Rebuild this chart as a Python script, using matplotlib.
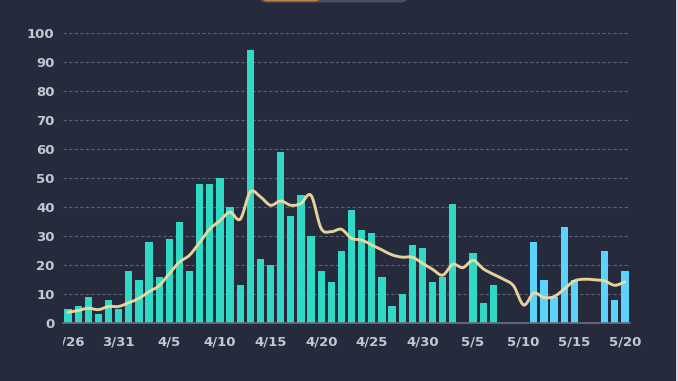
"""
Daily cases bar chart with smoothed trend line (dark theme).
"""

import numpy as np
import pandas as pd
import matplotlib
matplotlib.use("Agg")
import matplotlib.pyplot as plt
from matplotlib.path import Path
from matplotlib.patches import PathPatch, FancyBboxPatch, Rectangle
from matplotlib.transforms import Bbox, TransformedBbox

# Data
days = pd.date_range("2020-03-26", "2020-05-20", freq="D")
tick_labels = ["3/26", "3/31", "4/5", "4/10", "4/15", "4/20",
               "4/25", "4/30", "5/5", "5/10", "5/15", "5/20"]
daily_cases = [5, 6, 9, 3, 8, 5, 18, 15, 28, 16,
               29, 35, 18, 48, 48, 50, 40, 13, 94, 22,
               20, 59, 37, 44, 30, 18, 14, 25, 39, 32,
               31, 16, 6, 10, 27, 26, 14, 16, 41, 0,
               24, 7, 13, 0, 0, 0, 28, 15, 9, 33,
               15, 0, 0, 25, 8, 18]
trend = [3.7, 4.3, 5.1, 4.6, 5.7, 5.7, 7.0, 8.5, 10.8, 12.9,
         17.0, 21.0, 23.4, 27.8, 32.4, 35.3, 38.2, 35.8, 45.2, 43.5,
         40.6, 42.1, 40.6, 41.2, 44.0, 32.6, 31.5, 32.3, 29.2, 28.6,
         26.9, 25.2, 23.5, 22.7, 22.7, 20.6, 18.5, 16.5, 20.2, 19.1,
         21.6, 18.7, 16.8, 15.1, 12.8, 6.2, 10.3, 8.8, 9.1, 11.7,
         14.5, 15.1, 14.9, 14.5, 13.0, 14.2]
second_period_start = "2020-05-08"   # bars switch colour from here on

BG = "#252a3d"
TEAL = "#2fd9c5"
BLUE = "#5bd3fb"
LINE = "#f1db9f"
TEXT = "#c5c7d0"


def smooth_path(xs, ys):
    """Catmull-Rom curve through the points, as cubic bezier segments."""
    pts = np.column_stack([xs, ys]).astype(float)
    verts = [pts[0]]
    codes = [Path.MOVETO]
    n = len(pts)
    for i in range(n - 1):
        p0 = pts[max(i - 1, 0)]
        p1 = pts[i]
        p2 = pts[i + 1]
        p3 = pts[min(i + 2, n - 1)]
        c1 = p1 + (p2 - p0) / 6.0
        c2 = p2 - (p3 - p1) / 6.0
        verts += [c1, c2, p2]
        codes += [Path.CURVE4] * 3
    return Path(verts, codes)


fig = plt.figure(figsize=(6.78, 3.81), dpi=100, facecolor=BG)
ax = fig.add_axes([63 / 678, 1 - 323 / 381, 567 / 678, 290 / 381])
ax.set_facecolor(BG)

x = np.arange(len(days))
colors = [BLUE if d >= pd.Timestamp(second_period_start) else TEAL for d in days]
ax.bar(x, daily_cases, width=0.72, color=colors, zorder=2)

ax.add_patch(PathPatch(smooth_path(x, trend), facecolor="none",
                       edgecolor=LINE, lw=2.1, alpha=0.95, zorder=3,
                       capstyle="round", joinstyle="round"))

ax.set_xlim(-0.5, len(days) - 0.5)
ax.set_ylim(0, 100)
ax.set_yticks(range(0, 101, 10))
ax.yaxis.grid(True, color="#5c6274", linestyle=(0, (3, 2)), lw=0.8, zorder=0)
ax.set_axisbelow(True)

tick_pos = [list(days.strftime("%-m/%-d")).index(t) for t in tick_labels]
ax.set_xticks(tick_pos)
ax.set_xticklabels(tick_labels)

for side in ["top", "right", "left"]:
    ax.spines[side].set_visible(False)
ax.spines["bottom"].set_color("#6b6f7e")
ax.spines["bottom"].set_linewidth(1.2)

ax.tick_params(axis="both", length=0, colors=TEXT, labelsize=9.5)
ax.tick_params(axis="x", pad=9)
ax.tick_params(axis="y", pad=6)
for lbl in ax.get_xticklabels() + ax.get_yticklabels():
    lbl.set_fontweight("bold")

# first date label is cut off at the plot's left edge in the reference
first = ax.get_xticklabels()[0]
first.set_clip_box(TransformedBbox(Bbox([[0, -1], [1, 2]]), ax.transAxes))
first.set_clip_on(True)

# partially visible toggle pill at the top edge
fig.patches.append(FancyBboxPatch((260 / 678, 1 - 2.5 / 381), 147 / 678, 30 / 381,
                                  boxstyle="round,pad=0,rounding_size=0.01",
                                  transform=fig.transFigure, facecolor="#4a5066",
                                  edgecolor="none"))
fig.patches.append(FancyBboxPatch((262 / 678, 1 - 1.5 / 381), 58 / 678, 30 / 381,
                                  boxstyle="round,pad=0,rounding_size=0.01",
                                  transform=fig.transFigure, facecolor="#c47b3c",
                                  edgecolor="none"))
# light panel border on the right edge
fig.patches.append(Rectangle((675.5 / 678, 0), 2.5 / 678, 1,
                             transform=fig.transFigure, facecolor="#d6d9e0",
                             edgecolor="none"))

fig.savefig("out.png", dpi=100, facecolor=BG)
